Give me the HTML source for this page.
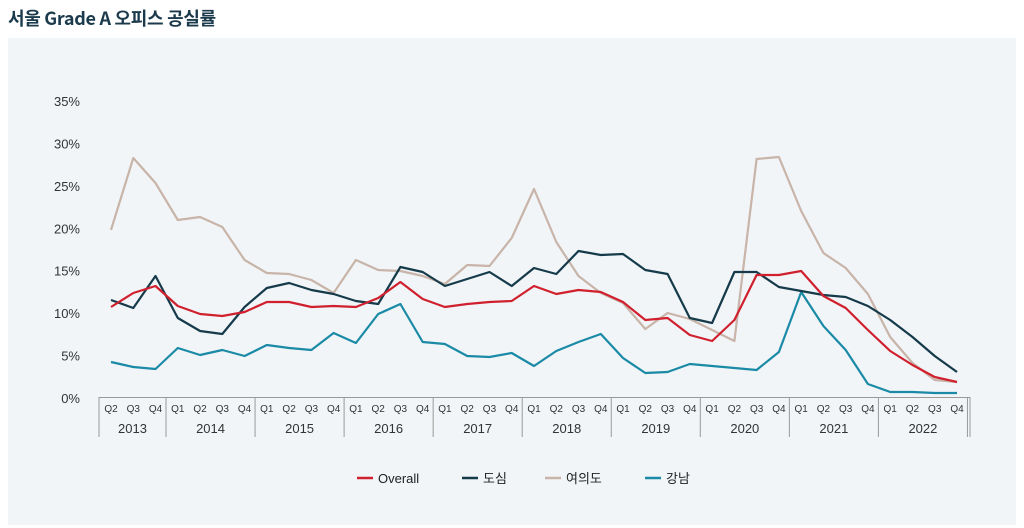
<!DOCTYPE html>
<html><head><meta charset="utf-8"><style>
body{margin:0;width:1024px;height:528px;background:#fff;overflow:hidden;font-family:"Liberation Sans","Noto Sans CJK KR",sans-serif}
.title{position:absolute;left:8px;top:5px;font-size:18px;font-weight:bold;color:#1b3a4b;font-family:"Noto Sans CJK KR","Liberation Sans",sans-serif;letter-spacing:-0.3px}
.panel{position:absolute;left:8px;top:38px;width:1008px;height:487px;background:#f1f5f8}
svg{position:absolute;left:0;top:0}
</style></head><body>
<div class="panel"></div>
<div class="title">서울 Grade A 오피스 공실률</div>
<svg id="s" width="1024" height="528" font-family="Liberation Sans, Noto Sans CJK KR, sans-serif"></svg>
<script>
const s=document.getElementById('s');let h='';
const X=i=>111+22.263*i;
for(let k=0;k<=7;k++){const y=398-k*42.43;h+=`<text x="80" y="${y+5}" font-size="13" fill="#333" text-anchor="end">${k*5}%</text>`;}
h+=`<line x1="99" y1="397.5" x2="970" y2="397.5" stroke="#999" stroke-width="1"/>`;
const seps=[99];for(let k=0;k<10;k++)seps.push(166+89.05*k);
seps.push(970);
seps.forEach(x=>h+=`<line x1="${x}" y1="397" x2="${x}" y2="437" stroke="#999" stroke-width="1"/>`);
for(let i=0;i<39;i++){const q=(i+1)%4+1;h+=`<text x="${X(i)}" y="412" font-size="10" fill="#333" text-anchor="middle">Q${q}</text>`;}
const yrs=[2013,2014,2015,2016,2017,2018,2019,2020,2021,2022];
yrs.forEach((y,k)=>{h+=`<text x="${(seps[k]+seps[k+1])/2}" y="433" font-size="13" fill="#333" text-anchor="middle">${y}</text>`;});
const D={
'#c8b4a8':[230,158,183,220,217,227,260,273,274,280,293,260,270,271,276,284,265,266,238,189,242,276,293,303,329,313,319,330,341,159,157,211,253,268,294,337,363,380,382],
'#1a8aa6':[362,367,369,348,355,350,356,345,348,350,333,343,314,304,342,344,356,357,353,366,351,342,334,358,373,372,364,366,368,370,352,292,326,350,384,392,392,393,393],
'#153a4a':[300,308,276,318,331,334,307,288,283,290,294,301,304,267,272,286,279,272,286,268,274,251,255,254,270,274,318,323,272,272,287,291,295,297,306,320,337,356,372],
'#d0202e':[307,293,286,306,314,316,312,302,302,307,306,307,298,282,299,307,304,302,301,286,294,290,292,302,320,318,335,341,320,275,275,271,296,308,330,351,365,377,382]};
for(const c in D){h+=`<polyline fill="none" stroke="${c}" stroke-width="2.2" stroke-linejoin="round" points="${D[c].map((y,i)=>X(i).toFixed(1)+','+y).join(' ')}"/>`;}
const L=[['#d0202e','Overall',357],['#153a4a','도심',462],['#c8b4a8','여의도',545],['#1a8aa6','강남',645]];
L.forEach(([c,t,x])=>{h+=`<line x1="${x}" y1="478" x2="${x+16}" y2="478" stroke="${c}" stroke-width="2.5"/><text x="${x+21}" y="483" font-size="13" fill="#222">${t}</text>`;});
s.innerHTML=h;
</script>
</body></html>
